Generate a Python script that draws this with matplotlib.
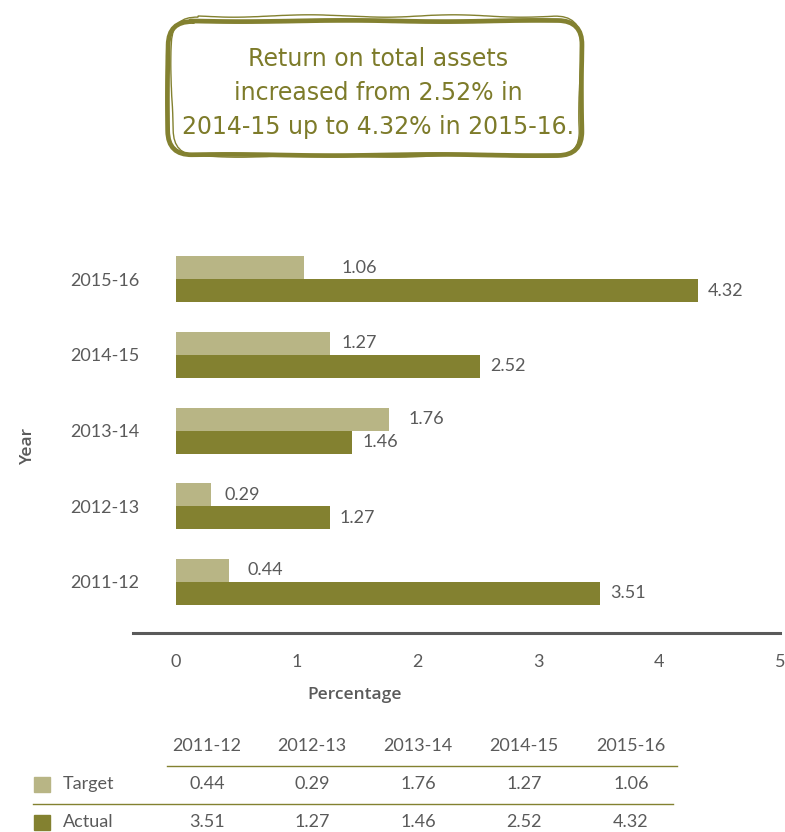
import matplotlib
matplotlib.use("Agg")
import matplotlib.pyplot as plt
from matplotlib.patches import FancyBboxPatch, Rectangle
import numpy as np

# ---------------------------------------------------------------------------
# Data
# ---------------------------------------------------------------------------
years = ["2011-12", "2012-13", "2013-14", "2014-15", "2015-16"]
target = [0.44, 0.29, 1.76, 1.27, 1.06]
actual = [3.51, 1.27, 1.46, 2.52, 4.32]
x_ticks = [0, 1, 2, 3, 4, 5]
headline = "Return on total assets\nincreased from 2.52% in\n2014-15 up to 4.32% in 2015-16."

# ---------------------------------------------------------------------------
# Style
# ---------------------------------------------------------------------------
W, H = 785, 832
C_TARGET = "#b8b585"
C_ACTUAL = "#838130"
C_TEXT = "#5a5a5a"
C_AXIS = "#5a5a5a"
FS = 13
plt.rcParams["font.family"] = ["Lato", "DejaVu Sans"]

fig = plt.figure(figsize=(W / 100, H / 100), dpi=100)


def px_box(left, top, right, bottom):
    """Figure-fraction rect from pixel edges (origin top-left)."""
    return [left / W, 1 - bottom / H, (right - left) / W, (bottom - top) / H]


# ---------------------------------------------------------------------------
# Bar chart
# ---------------------------------------------------------------------------
ax = fig.add_axes(px_box(133, 240, 780, 633))
y = np.arange(len(years))
h = 0.304

ax.barh(y + h / 2, target, height=h, color=C_TARGET)
ax.barh(y - h / 2, actual, height=h, color=C_ACTUAL)

# value labels (target labels sit at slightly uneven offsets)
target_offsets = [18, 13, 20, 12, 37]
for i in range(len(years)):
    ax.annotate(f"{target[i]:.2f}", xy=(target[i], y[i] + h / 2),
                xytext=(target_offsets[i], 0), textcoords="offset pixels",
                ha="left", va="center", fontsize=FS, color=C_TEXT)
    ax.annotate(f"{actual[i]:.2f}", xy=(actual[i], y[i] - h / 2),
                xytext=(10, 0), textcoords="offset pixels",
                ha="left", va="center", fontsize=FS, color=C_TEXT)

ax.set_xlim(-0.357, 5.0)
ax.set_ylim(-0.675, 4.52)
ax.set_xticks(x_ticks)
ax.set_xticklabels([str(t) for t in x_ticks])
ax.set_yticks(y)
ax.set_yticklabels(years)
ax.tick_params(axis="x", length=0, pad=15, labelsize=FS, labelcolor=C_TEXT)
ax.tick_params(axis="y", length=0, pad=-4.5, labelsize=FS, labelcolor=C_TEXT)

for side in ["top", "right", "left"]:
    ax.spines[side].set_visible(False)
ax.spines["bottom"].set_color(C_AXIS)
ax.spines["bottom"].set_linewidth(2.2)

ax.set_xlabel("Percentage", fontsize=12.5, fontweight="semibold", color=C_TEXT,
              family="Open Sans")
ax.xaxis.set_label_coords(0.343, -0.138)
ax.set_ylabel("Year", fontsize=12.5, fontweight="semibold", color=C_TEXT,
              family="Open Sans")
ax.yaxis.set_label_coords(-0.150, 0.478)

# ---------------------------------------------------------------------------
# Overlay in pixel coordinates: headline box and data table
# ---------------------------------------------------------------------------
ov = fig.add_axes([0, 0, 1, 1], zorder=-1)
ov.set_xlim(0, W)
ov.set_ylim(H, 0)
ov.axis("off")

outer = FancyBboxPatch((186, 30), 380, 112, boxstyle="round,pad=14,rounding_size=26",
                       fill=False, edgecolor=C_ACTUAL, linewidth=1.0)
outer.set_sketch_params(scale=1.2, length=160, randomness=2)
ov.add_patch(outer)
inner = FancyBboxPatch((182, 35), 386, 106, boxstyle="round,pad=14,rounding_size=24",
                       fill=False, edgecolor=C_ACTUAL, linewidth=3.4)
inner.set_sketch_params(scale=0.6, length=220, randomness=2)
ov.add_patch(inner)
ov.text(378, 93, headline, ha="center", va="center", fontsize=17,
        color="#7d7b2a", family="DejaVu Sans", linespacing=1.53)

# table
col_x = [207, 312, 418, 524, 631]
for cx, yr in zip(col_x, years):
    ov.text(cx, 746, yr, ha="center", va="center", fontsize=FS, color=C_TEXT)
ov.plot([167, 677], [766, 766], color=C_ACTUAL, linewidth=1)
ov.plot([33, 673], [804, 804], color=C_ACTUAL, linewidth=1)

rows = [("Target", target, C_TARGET, 784), ("Actual", actual, C_ACTUAL, 822)]
for name, vals, col, ry in rows:
    ov.add_patch(Rectangle((34, ry - 7), 16, 15, color=col))
    ov.text(63, ry, name, ha="left", va="center", fontsize=FS, color=C_TEXT)
    for cx, v in zip(col_x, vals):
        ov.text(cx, ry, f"{v:.2f}", ha="center", va="center", fontsize=FS, color=C_TEXT)

fig.savefig("out.png", dpi=100, facecolor="white")
